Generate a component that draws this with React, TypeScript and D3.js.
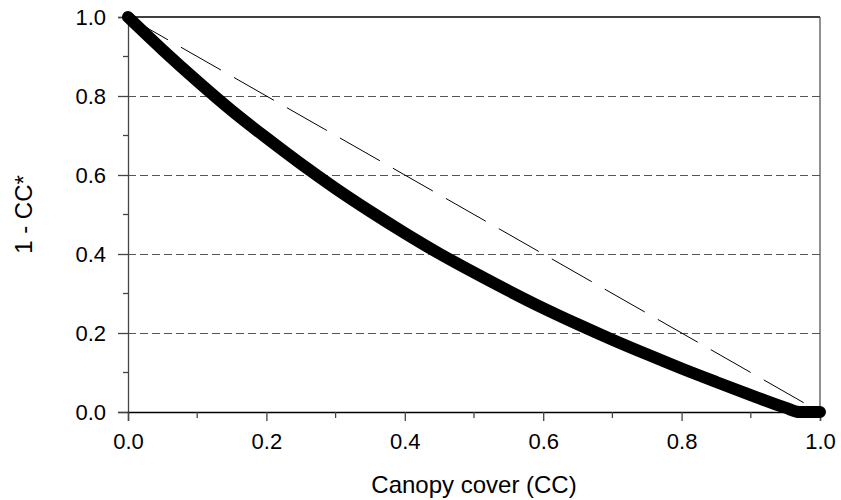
import React, { useRef, useEffect } from 'react';
import * as d3 from 'd3';

// canopy cover (CC) and read-off values of 1 - CC*
const canopyCover = [0, 0.05, 0.1, 0.15, 0.2, 0.25, 0.3, 0.35, 0.4, 0.45, 0.5, 0.55, 0.6, 0.65, 0.7, 0.75, 0.8, 0.85, 0.9, 0.95, 0.97, 1.0];
const oneMinusCCStar = [1.0, 0.917, 0.838, 0.763, 0.694, 0.628, 0.566, 0.508, 0.453, 0.401, 0.353, 0.307, 0.263, 0.222, 0.183, 0.146, 0.11, 0.076, 0.043, 0.011, 0, 0];
const diagonalX = [0, 1];
const diagonalY = [1, 0];
const xTicks = [0, 0.2, 0.4, 0.6, 0.8, 1.0];
const yTicks = [0, 0.2, 0.4, 0.6, 0.8, 1.0];
const minorTicks = [0.1, 0.3, 0.5, 0.7, 0.9];
const gridValues = [0.2, 0.4, 0.6, 0.8];

const FONT = '"Liberation Sans", Arial, sans-serif';
const TICK_FS = 22;
const TITLE_FS = 24;

const App = () => {
  const ref = useRef<SVGSVGElement>(null);

  useEffect(() => {
    const W = 841, H = 500;
    const left = 128, right = 820, top = 17, bottom = 412;

    const svg = d3.select(ref.current);
    svg.selectAll('*').remove();
    svg.attr('width', W).attr('height', H);

    const x = d3.scaleLinear().domain([0, 1]).range([left, right]);
    const y = d3.scaleLinear().domain([0, 1]).range([bottom, top]);

    // dashed grid lines
    svg.append('g')
      .attr('shape-rendering', 'crispEdges')
      .selectAll('line')
      .data(gridValues)
      .enter()
      .append('line')
      .attr('x1', left)
      .attr('x2', right)
      .attr('y1', d => Math.round(y(d)) + 0.5)
      .attr('y2', d => Math.round(y(d)) + 0.5)
      .attr('stroke', '#555')
      .attr('stroke-width', 1)
      .attr('stroke-dasharray', '8,4');

    // frame: top and right
    svg.append('line')
      .attr('x1', left).attr('x2', right)
      .attr('y1', top).attr('y2', top)
      .attr('stroke', '#000').attr('stroke-width', 1.3);
    svg.append('line')
      .attr('x1', right).attr('x2', right)
      .attr('y1', top).attr('y2', bottom)
      .attr('stroke', '#555').attr('stroke-width', 1.3);

    // y axis
    const yAxis = d3.axisLeft(y).tickValues(yTicks).tickFormat(d3.format('.1f')).tickSize(10).tickPadding(12);
    const gy = svg.append('g').attr('transform', `translate(${left},0)`).call(yAxis);
    gy.select('.domain').attr('stroke', '#444').attr('stroke-width', 1.3);
    gy.selectAll('.tick line').attr('stroke', '#444').attr('stroke-width', 1.3);
    gy.selectAll('text').attr('font-family', FONT).attr('font-size', TICK_FS).attr('fill', '#000');

    svg.append('g')
      .selectAll('line')
      .data(minorTicks)
      .enter()
      .append('line')
      .attr('x1', left - 5).attr('x2', left)
      .attr('y1', d => y(d)).attr('y2', d => y(d))
      .attr('stroke', '#444').attr('stroke-width', 1.3);

    // x axis
    const xAxis = d3.axisBottom(x).tickValues(xTicks).tickFormat(d3.format('.1f')).tickSize(9).tickPadding(12);
    const gx = svg.append('g').attr('transform', `translate(0,${bottom})`).call(xAxis);
    gx.select('.domain').attr('stroke', '#000').attr('stroke-width', 1.3);
    gx.selectAll('.tick line').attr('stroke', '#444').attr('stroke-width', 1.3);
    gx.selectAll('text').attr('font-family', FONT).attr('font-size', TICK_FS).attr('fill', '#000');

    svg.append('g')
      .selectAll('line')
      .data(minorTicks)
      .enter()
      .append('line')
      .attr('x1', d => x(d)).attr('x2', d => x(d))
      .attr('y1', bottom).attr('y2', bottom + 6)
      .attr('stroke', '#444').attr('stroke-width', 1.3);

    // 1:1 dashed diagonal
    const line = d3.line<[number, number]>().x(d => x(d[0])).y(d => y(d[1]));
    svg.append('path')
      .datum(diagonalX.map((v, i) => [v, diagonalY[i]] as [number, number]))
      .attr('d', line)
      .attr('fill', 'none')
      .attr('stroke', '#000')
      .attr('stroke-width', 1)
      .attr('stroke-dasharray', '46,15');

    // thick curve
    const curve = d3.line<[number, number]>()
      .x(d => x(d[0]))
      .y(d => y(d[1]))
      .curve(d3.curveMonotoneX);
    svg.append('path')
      .datum(canopyCover.map((v, i) => [v, oneMinusCCStar[i]] as [number, number]))
      .attr('d', curve)
      .attr('fill', 'none')
      .attr('stroke', '#000')
      .attr('stroke-width', 12)
      .attr('stroke-linecap', 'round')
      .attr('stroke-linejoin', 'round');

    // axis titles
    svg.append('text')
      .attr('x', (left + right) / 2)
      .attr('y', 493)
      .attr('text-anchor', 'middle')
      .attr('font-family', FONT)
      .attr('font-size', TITLE_FS)
      .text('Canopy cover (CC)');

    svg.append('text')
      .attr('transform', `translate(32,${(top + bottom) / 2}) rotate(-90)`)
      .attr('text-anchor', 'middle')
      .attr('font-family', FONT)
      .attr('font-size', TITLE_FS)
      .text('1 - CC*');
  }, []);

  return (
    <div style={{ position: 'absolute', left: 0, top: 0, width: 841, height: 500, background: '#fff' }}>
      <svg ref={ref}></svg>
    </div>
  );
};

export default App;
